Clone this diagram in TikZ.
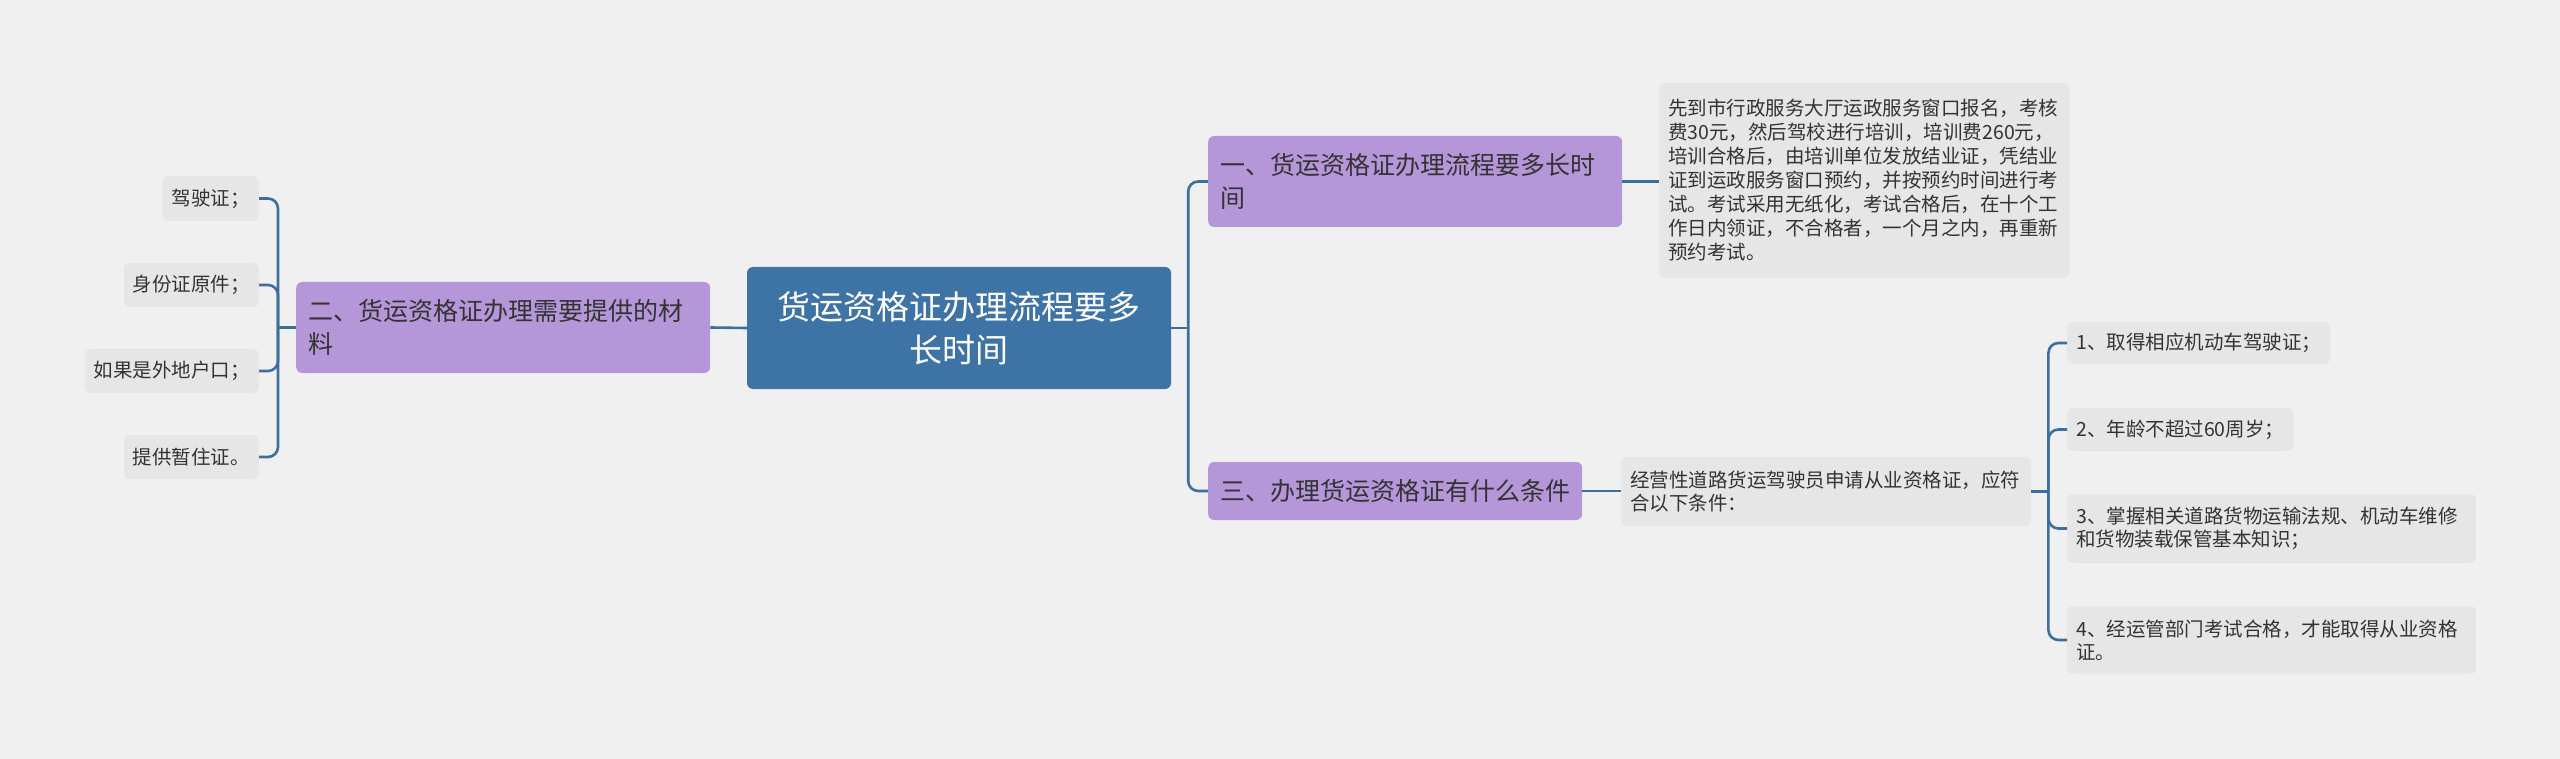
\documentclass[tikz,border=0pt]{standalone}
\usepackage{fontspec}
\newfontfamily\cjk{Noto Sans CJK SC}
\definecolor{bgc}{HTML}{F0F0F0}
\definecolor{leafc}{HTML}{E6E6E6}
\definecolor{purc}{HTML}{B596D9}
\definecolor{rootc}{HTML}{3D73A5}
\definecolor{linec}{HTML}{3C6E9E}
\definecolor{txtc}{HTML}{333333}
\tikzset{
  box/.style={rounded corners=6pt, inner ysep=0pt, text=txtc, font=\cjk},
  leaf/.style={box, fill=leafc, inner xsep=9pt, align=left, font=\cjk\fontsize{19.5}{24}\selectfont},
  sub/.style={box, fill=purc, inner xsep=12pt, align=left, minimum height=91pt, font=\cjk\fontsize{25}{33}\selectfont},
  rootbox/.style={box, fill=rootc, text=white, align=center, minimum width=424pt, minimum height=122pt, font=\cjk\fontsize{33}{43}\selectfont},
  conn/.style={draw=linec, line width=2.6pt, rounded corners=10pt},
}
\begin{document}
\begin{tikzpicture}[x=1pt,y=-1pt]
\fill[bgc] (0,0) rectangle (2560,759);
\useasboundingbox (0,0) rectangle (2560,759);

% root
\node[rootbox] (root) at (959,328) {货运资格证办理流程要多\\长时间};

% left branch
\node[sub, anchor=west, text width=390pt] (n2) at (296,327.5) {二、货运资格证办理需要提供的材\\料};
\node[leaf, anchor=east, minimum height=45pt] (l1) at (259,198.5) {驾驶证；};
\node[leaf, anchor=east, minimum height=44pt] (l2) at (259,285) {身份证原件；};
\node[leaf, anchor=east, minimum height=44pt] (l3) at (259,371) {如果是外地户口；};
\node[leaf, anchor=east, minimum height=44pt] (l4) at (259,457) {提供暂住证。};

% right branches
\node[sub, anchor=west, text width=390pt] (n1) at (1208,181.5) {一、货运资格证办理流程要多长时\\间};
\node[sub, anchor=west, minimum height=58pt] (n3) at (1208,491) {三、办理货运资格证有什么条件};

\node[leaf, anchor=west, text width=392pt, minimum height=195pt] (d1) at (1659,180.5)
 {先到市行政服务大厅运政服务窗口报名，考核\\费30元，然后驾校进行培训，培训费260元，\\培训合格后，由培训单位发放结业证，凭结业\\证到运政服务窗口预约，并按预约时间进行考\\试。考试采用无纸化，考试合格后，在十个工\\作日内领证，不合格者，一个月之内，再重新\\预约考试。};

\node[leaf, anchor=west, text width=392pt, minimum height=69pt, font=\cjk\fontsize{19.5}{23}\selectfont] (d3) at (1621,491.5)
 {经营性道路货运驾驶员申请从业资格证，应符\\合以下条件：};

\node[leaf, anchor=west, minimum height=42pt] (r1) at (2067,343) {1、取得相应机动车驾驶证；};
\node[leaf, anchor=west, minimum height=43pt] (r2) at (2067,429.5) {2、年龄不超过60周岁；};
\node[leaf, anchor=west, text width=391pt, minimum height=69pt, font=\cjk\fontsize{19.5}{23}\selectfont] (r3) at (2067,528.5) {3、掌握相关道路货物运输法规、机动车维修\\和货物装载保管基本知识；};
\node[leaf, anchor=west, text width=391pt, minimum height=68pt, font=\cjk\fontsize{19.5}{23}\selectfont] (r4) at (2067,640) {4、经运管部门考试合格，才能取得从业资格\\证。};

% junctions
\coordinate (jL) at ([xshift=-18pt]n2.west);
\coordinate (jR) at ([xshift=17pt]root.east);
\coordinate (jD) at ([xshift=17pt]d3.east);

% connectors
\draw[conn] (root.west) -- (n2.east);
\draw[conn] (n2.west) -- (jL);
\foreach \c in {l1,l2,l3,l4} \draw[conn] (jL) |- (\c.east);

\draw[conn] (root.east) -- (jR);
\draw[conn] (jR) |- (n1.west);
\draw[conn] (jR) |- (n3.west);
\draw[conn] (n1.east) -- (n1.east -| d1.west);
\draw[conn] (n3.east) -- (n3.east -| d3.west);

\draw[conn] (d3.east) -- (jD);
\foreach \c in {r1,r2,r3,r4} \draw[conn] (jD) |- (\c.west);
\end{tikzpicture}
\end{document}
